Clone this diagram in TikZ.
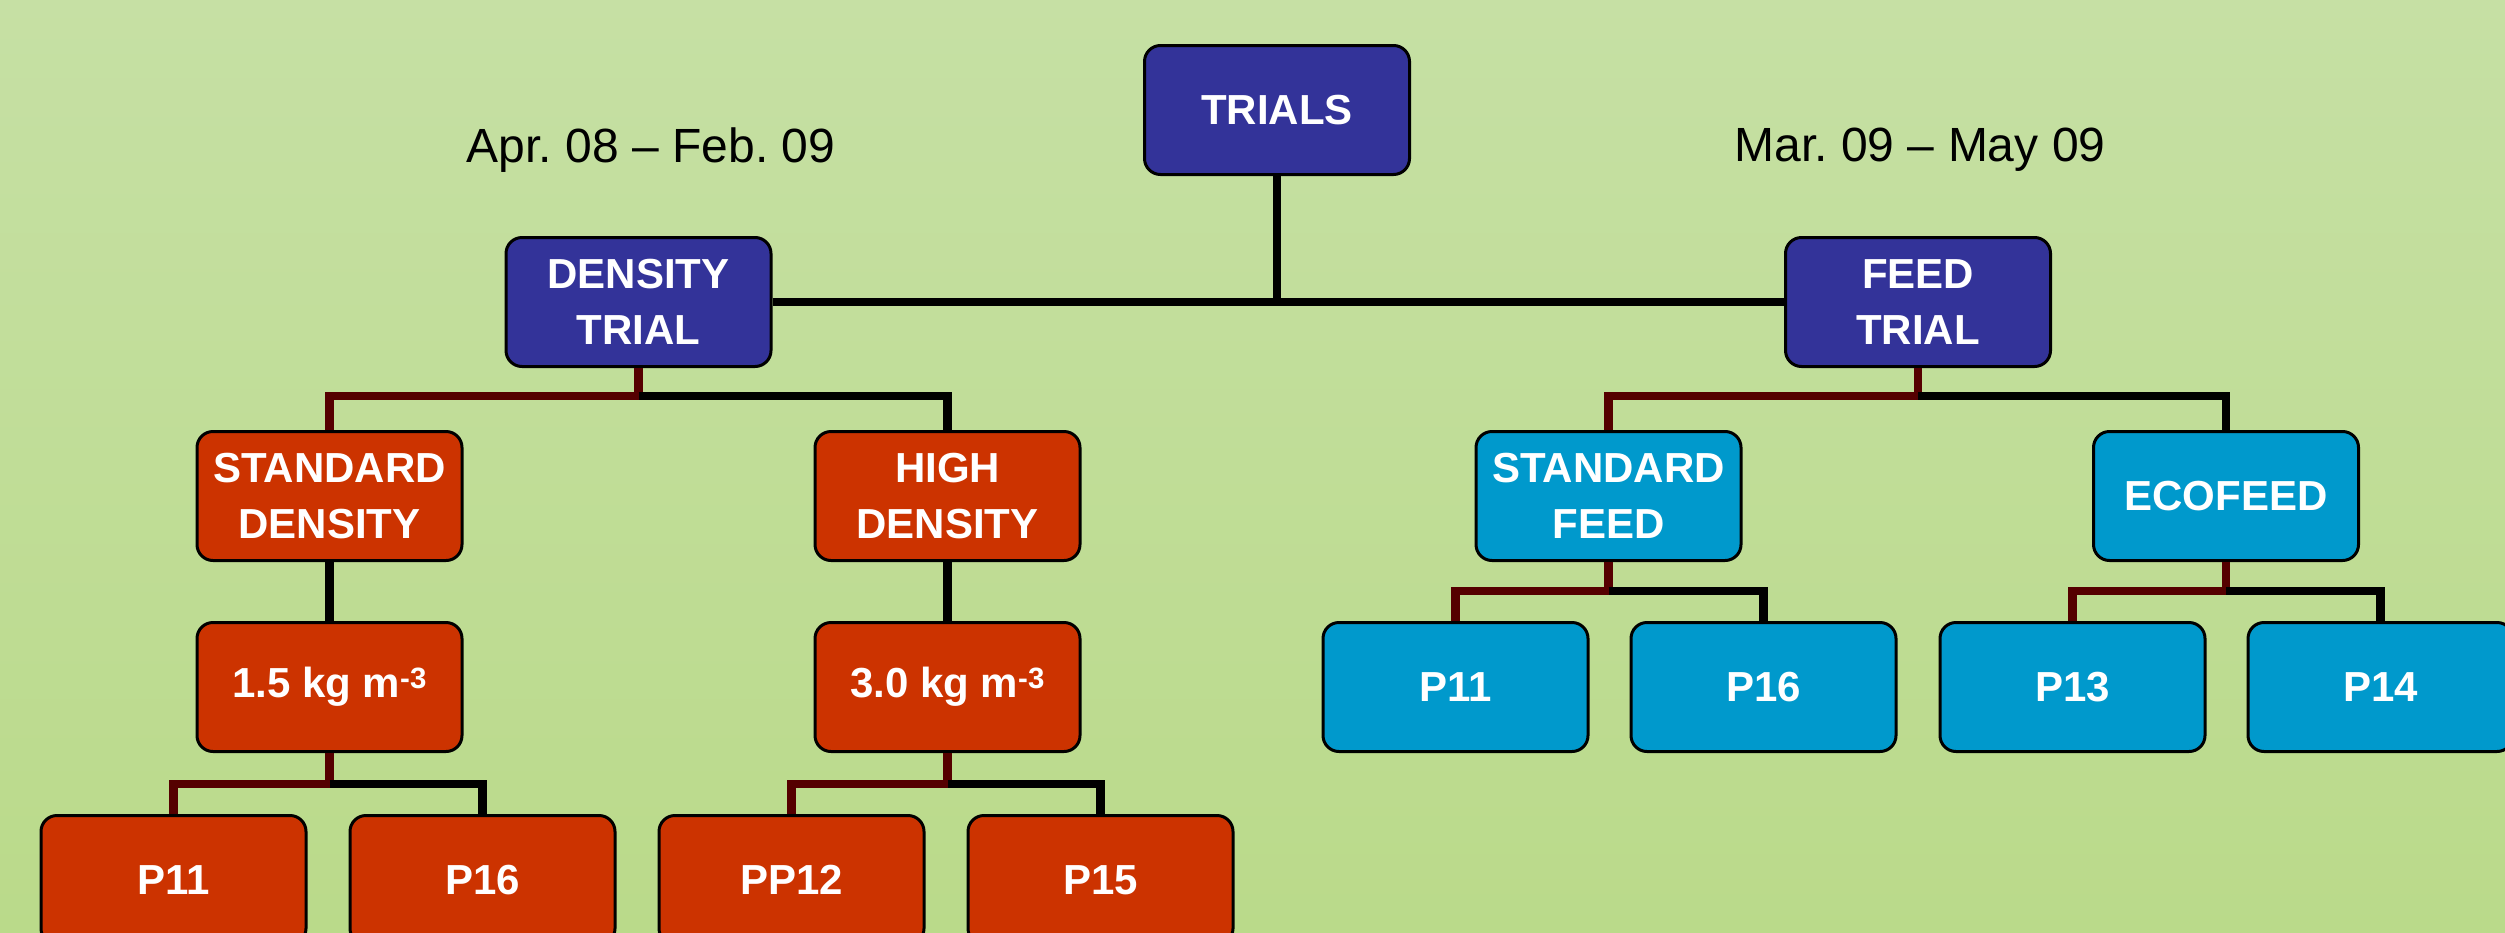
\documentclass[tikz,border=0pt]{standalone}
\usepackage{fontspec}
\setmainfont{Liberation Sans}
\frenchspacing
\definecolor{bgtop}{HTML}{C6E0A4}
\definecolor{bgbot}{HTML}{BADA8A}
\definecolor{navy}{HTML}{333399}
\definecolor{rust}{HTML}{CC3300}
\definecolor{sky}{HTML}{0099CC}
\definecolor{maroon}{HTML}{550000}
\tikzset{
  box/.style={draw=black, line width=3pt, rounded corners=16pt,
    minimum width=265pt, minimum height=129pt, inner sep=0pt,
    text=white, align=center,
    font=\bfseries\fontsize{42}{56}\selectfont},
  navybox/.style={box, fill=navy},
  rustbox/.style={box, fill=rust},
  skybox/.style={box, fill=sky},
  blackline/.style={draw=black, line width=8.5pt},
  redline/.style={draw=maroon, line width=8.5pt},
  datelabel/.style={font=\fontsize{48}{56}\selectfont, text=black, inner sep=0pt}
}
\begin{document}
\begin{tikzpicture}[x=1pt,y=-1pt]
\useasboundingbox (0,0) rectangle (2505,932);
\clip (0,0) rectangle (2505,932);
\shade[top color=bgtop, bottom color=bgbot] (0,0) rectangle (2505,932);

% nodes
\node[navybox] (tr) at (1277,110) {TRIALS};
\node[navybox] (dt) at (638.5,302) {DENSITY\\TRIAL};
\node[navybox] (ft) at (1918,302) {FEED\\TRIAL};
\node[rustbox] (sd) at (329.5,496) {STANDARD\\DENSITY};
\node[rustbox] (hd) at (947.5,496) {HIGH\\DENSITY};
\node[skybox] (sf) at (1608.5,496) {STANDARD\\FEED};
\node[skybox] (eco) at (2226,496) {ECOFEED};
\node[rustbox] (k15) at (329.5,687) {1.5 kg m\textsuperscript{-3}};
\node[rustbox] (k30) at (947.5,687) {3.0 kg m\textsuperscript{-3}};
\node[skybox] (f11) at (1455.5,687) {P11};
\node[skybox] (f16) at (1763.5,687) {P16};
\node[skybox] (f13) at (2072.5,687) {P13};
\node[skybox] (f14) at (2380.5,687) {P14};
\node[rustbox] (d11) at (173.5,880) {P11};
\node[rustbox] (d16) at (482.5,880) {P16};
\node[rustbox] (d12) at (791.5,880) {PP12};
\node[rustbox] (d15) at (1100.5,880) {P15};

\node[datelabel] (lab1) at (651,150) {Apr. 08 – Feb. 09};
\node[datelabel] (lab2) at (1920,150) {Mar. 09 – May 09};

% bus points
\coordinate (j0) at (1277,302);
\coordinate (b1) at (638.5,396);
\coordinate (b2) at (1918,396);
\coordinate (b3) at (329.5,784);
\coordinate (b4) at (947.5,784);
\coordinate (b5) at (1608.5,591);
\coordinate (b6) at (2226,591);

% connectors
\path[blackline] (tr.south) -- (j0);
\path[blackline] (dt.east) -- (ft.west);
\path[blackline] (sd.south) -- (k15.north);
\path[blackline] (hd.south) -- (k30.north);

\path[redline] (dt.south) -- (b1) -| (sd.north);
\path[blackline] (b1) -| (hd.north);
\path[redline] (ft.south) -- (b2) -| (sf.north);
\path[blackline] (b2) -| (eco.north);
\path[redline] (k15.south) -- (b3) -| (d11.north);
\path[blackline] (b3) -| (d16.north);
\path[redline] (k30.south) -- (b4) -| (d12.north);
\path[blackline] (b4) -| (d15.north);
\path[redline] (sf.south) -- (b5) -| (f11.north);
\path[blackline] (b5) -| (f16.north);
\path[redline] (eco.south) -- (b6) -| (f13.north);
\path[blackline] (b6) -| (f14.north);
\end{tikzpicture}
\end{document}
